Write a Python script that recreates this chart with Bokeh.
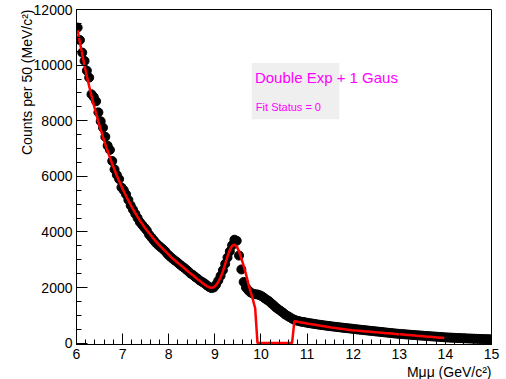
import numpy as np
from bokeh.plotting import figure
from bokeh.models import (Range1d, SingleIntervalTicker, Label, BoxAnnotation,
                          ColumnDataSource, Title)
from bokeh.embed import file_html
from bokeh.resources import INLINE

# ---------------- data ----------------
bin_low = 6.0
bin_width = 0.05  # 50 MeV bins

counts = [
    # 6.0 - 7.0
    11350, 10900, 10450, 10150, 9800, 9550, 8950, 8850, 8700, 8300,
    7980, 7750, 7420, 7100, 6950, 6550, 6250, 6050, 5900, 5600,
    # 7.0 - 8.0
    5500, 5350, 5150, 4950, 4800, 4650, 4500, 4350, 4250, 4150,
    4050, 3900, 3800, 3700, 3600, 3520, 3450, 3380, 3300, 3200,
    # 8.0 - 9.0
    3120, 3050, 2980, 2920, 2850, 2780, 2720, 2650, 2580, 2500,
    2450, 2380, 2320, 2250, 2200, 2150, 2080, 2020, 1980, 2000,
    # 9.0 - 10.0
    2100, 2250, 2420, 2620, 2850, 3080, 3300, 3520, 3720, 3680,
    3150, 2650, 2200, 2000, 1900, 1820, 1780, 1760, 1750, 1720,
    # 10.0 - 11.0
    1680, 1620, 1560, 1510, 1430, 1360, 1280, 1220, 1160, 1100,
    1030, 980, 930, 880, 840, 810, 790, 770, 760, 740,
    # 11.0 - 12.0
    725, 712, 698, 686, 672, 660, 648, 637, 626, 615,
    604, 594, 584, 574, 564, 554, 545, 536, 527, 518,
    # 12.0 - 13.0
    505, 496, 487, 478, 469, 460, 451, 442, 433, 424,
    415, 406, 397, 388, 379, 370, 361, 352, 344, 336,
    # 13.0 - 14.0
    330, 323, 316, 309, 302, 296, 290, 283, 277, 270,
    264, 258, 252, 246, 240, 234, 228, 222, 216, 210,
    # 14.0 - 15.0
    205, 200, 196, 192, 188, 184, 180, 176, 172, 168,
    165, 162, 158, 155, 152, 149, 146, 143, 140, 137,
]

fit_values = [
    # 6.0 - 7.0
    11250, 10800, 10380, 9980, 9600, 9240, 8900, 8570, 8260, 7960,
    7680, 7410, 7150, 6900, 6670, 6440, 6230, 6020, 5830, 5640,
    # 7.0 - 8.0
    5460, 5290, 5130, 4970, 4820, 4680, 4540, 4410, 4290, 4170,
    4060, 3950, 3850, 3750, 3650, 3560, 3470, 3390, 3310, 3230,
    # 8.0 - 9.0
    3140, 3060, 2990, 2920, 2850, 2780, 2710, 2640, 2570, 2500,
    2440, 2370, 2300, 2240, 2170, 2110, 2050, 2010, 1990, 2010,
    # 9.0 - 10.0
    2080, 2200, 2370, 2580, 2850, 3120, 3350, 3500, 3540, 3480,
    3300, 3050, 2780, 2480, 2150, 1850, 1570, 1250, 0, 0,
    # 10.0 - 11.0
    0, 0, 0, 0, 0, 0, 0, 0, 0, 0,
    0, 0, 0, 0, 790, 775, 760, 745, 730, 715,
    # 11.0 - 12.0
    700, 686, 672, 658, 644, 630, 617, 604, 591, 578,
    565, 553, 541, 529, 517, 505, 494, 483, 472, 461,
    # 12.0 - 13.0
    456, 449, 442, 435, 428, 421, 414, 407, 400, 393,
    386, 379, 372, 365, 358, 351, 344, 337, 330, 323,
    # 13.0 - 14.0
    316, 309, 302, 295, 288, 281, 274, 267, 260, 253,
    246, 239, 232, 225, 218, 211, 204, 197, 190, 183,
]

x_ticks_interval = 1
y_ticks_interval = 2000
fit_title = "Double Exp + 1 Gaus"
fit_status = "Fit Status = 0"
y_title = "Counts per 50 (MeV/c²)"
x_title = "Mμμ (GeV/c²)"

data_x = bin_low + bin_width * (np.arange(len(counts)) + 0.5)
fit_x = bin_low + bin_width * (np.arange(len(fit_values)) + 0.5)

# ---------------- figure ----------------
FONT = "Liberation Sans"
p = figure(width=506, height=379, output_backend="svg", toolbar_location=None,
           x_range=Range1d(6, 15), y_range=Range1d(-50, 12000),
           min_border_left=76, min_border_right=15,
           min_border_top=9, min_border_bottom=32)
p.xgrid.visible = False
p.ygrid.visible = False
p.outline_line_color = "black"
p.outline_line_width = 1
p.background_fill_color = "white"
p.border_fill_color = "white"

for ax, tk in ((p.xaxis[0], SingleIntervalTicker(interval=x_ticks_interval, num_minor_ticks=5)),
               (p.yaxis[0], SingleIntervalTicker(interval=y_ticks_interval, num_minor_ticks=4))):
    ax.ticker = tk
    ax.major_tick_in = 11
    ax.major_tick_out = 0
    ax.minor_tick_in = 5
    ax.minor_tick_out = 0
    ax.axis_line_color = "black"
    ax.major_tick_line_color = "black"
    ax.minor_tick_line_color = "black"
    ax.major_label_text_font = FONT
    ax.major_label_text_font_size = "14px"
    ax.major_label_text_color = "black"
    ax.major_label_standoff = 4

# axis titles (ROOT style: aligned to the end of the axis)
p.add_layout(Title(text=y_title, align="right", text_font=FONT,
                   text_font_size="14px", text_font_style="normal",
                   text_color="black", standoff=-9), "left")
p.add_layout(Title(text=x_title, align="right", text_font=FONT,
                   text_font_size="14px", text_font_style="normal",
                   text_color="black", standoff=0), "below")

# data markers
src = ColumnDataSource(dict(x=data_x, y=counts))
p.scatter("x", "y", source=src, size=9, marker="circle",
          fill_color="black", line_color="black")

# fit line
p.line(fit_x, fit_values, line_color="#ff0000", line_width=2.5)

# fit info box
p.add_layout(BoxAnnotation(left=9.80, right=11.70, bottom=8050, top=10080,
                           fill_color="#efefef", fill_alpha=1.0, line_alpha=0))
p.add_layout(Label(x=9.87, y=9560, text=fit_title, text_color="#ff00ff",
                   text_font=FONT, text_font_size="15px",
                   text_baseline="middle", text_align="left"))
p.add_layout(Label(x=9.89, y=8500, text=fit_status, text_color="#ff00ff",
                   text_font=FONT, text_font_size="11px",
                   text_baseline="middle", text_align="left"))

open("out.html", "w").write(file_html(p, INLINE))
